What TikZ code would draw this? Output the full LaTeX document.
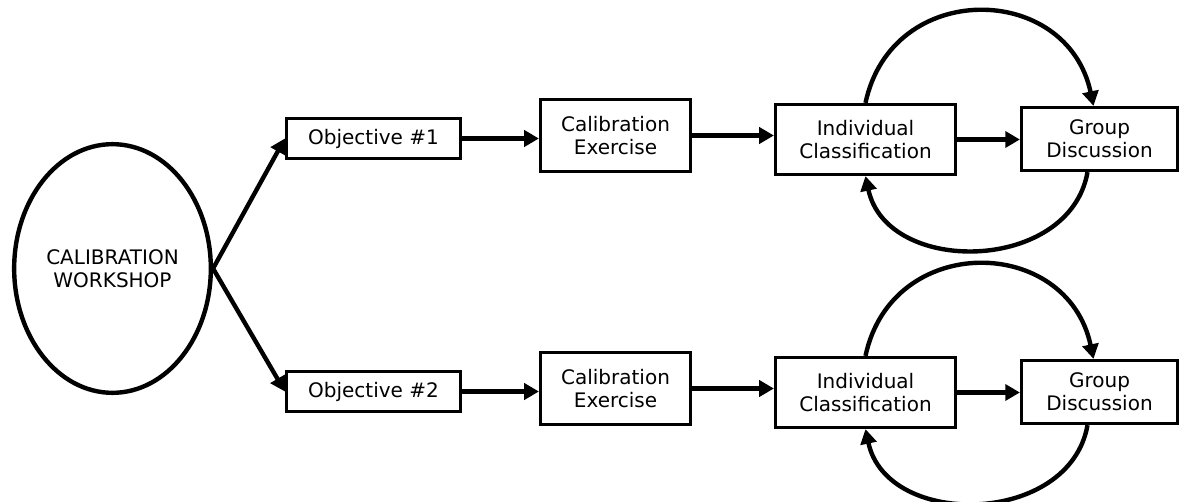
\documentclass[tikz,border=0pt]{standalone}
\usepackage{fontspec}
\setmainfont{DejaVu Sans}
\usetikzlibrary{arrows.meta,shapes.geometric}

\tikzset{
    stage/.style={draw, line width=2.4pt, align=center, inner sep=1pt, font=\fontsize{15}{17.25}\selectfont},
    flow/.style={line width=3.3pt, -{Triangle[length=11pt,width=12pt]}},
}

\begin{document}
\begin{tikzpicture}[x=0.75pt,y=-0.75pt]
    \useasboundingbox (0,0) rectangle (1180,502);

    % Workshop
    \node[draw, ellipse, line width=3.3pt, inner sep=0pt, minimum width=147.5pt, minimum height=186.5pt, align=center, font=\fontsize{15}{17.25}\selectfont] (ws) at (112.5,268.5) {CALIBRATION\\WORKSHOP};

    % One row per objective
    \foreach \row/\dy in {1/0, 2/253}{
        \node[stage, minimum width=130.5pt, minimum height=30pt] (obj\row) at (373.5,138.5+\dy) {Objective \#\row};
        \node[stage, minimum width=112.5pt, minimum height=54pt] (cal\row) at (615.5,135.5+\dy) {Calibration\\Exercise};
        \node[stage, minimum width=135pt, minimum height=52.5pt] (ind\row) at (865.5,139.5+\dy) {Individual\\Classification};
        \node[stage, minimum width=117pt, minimum height=47.25pt] (grp\row) at (1099.5,139+\dy) {Group\\Discussion};

        \draw[flow] (ws.east) -- (obj\row.west);
        \draw[flow] (obj\row.east) -- (obj\row.east -| cal\row.west);
        \draw[flow] (cal\row.east) -- (cal\row.east -| ind\row.west);
        \draw[flow] (ind\row.east) -- (ind\row.east -| grp\row.west);

        % Classification / discussion loop
        \draw[flow] (ind\row.north) to[out=78, in=102, looseness=1.42] ([xshift=-4.5pt]grp\row.north);
        \draw[flow] ([xshift=-9pt]grp\row.south) to[out=-100, in=-78, looseness=1.18] (ind\row.south);
    }
\end{tikzpicture}
\end{document}
